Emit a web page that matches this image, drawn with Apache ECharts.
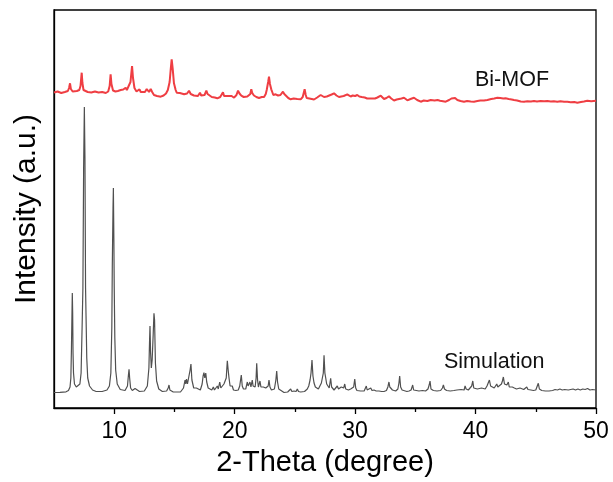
<!DOCTYPE html>
<html>
<head>
<meta charset="utf-8">
<script src="https://cdn.jsdelivr.net/npm/echarts@6/dist/echarts.min.js"></script>
<style>
  html, body { margin: 0; padding: 0; background: #fff; }
  #chart { width: 613px; height: 482px; }
</style>
</head>
<body>
<div id="chart"></div>
<script>
// XRD patterns: 2-theta (degree) and stacked intensity (a.u.)
const simulationPattern = [
  [5.0,15.5],[5.5,15.6],[6.0,16.2],[6.2,17.5],[6.33,21],[6.40,30],[6.45,60],[6.50,100],[6.52,115],[6.55,95],
  [6.58,55],[6.62,35],[6.70,24],[6.85,21],[7.0,20],[7.15,24],[7.25,35],[7.33,79],[7.40,120],[7.46,240],
  [7.52,301],[7.57,250],[7.62,120],[7.66,92],[7.72,50],[7.80,30],[7.95,22],[8.2,18],[8.5,16.5],[9.0,16.5],
  [9.4,18],[9.6,22],[9.72,35],[9.80,80],[9.84,141],[9.90,200],[9.93,220],[9.97,170],[10.0,121],[10.05,70],
  [10.12,38],[10.25,24],[10.5,18.5],[10.9,17.5],[11.1,22],[11.18,33],[11.23,38.7],[11.28,30],[11.36,20],[11.5,17.5],
  [11.65,18],[11.73,19.5],[11.8,17.5],[12.1,16.5],[12.5,17],[12.75,22],[12.88,40],[12.94,70],[12.97,82],[13.02,55],
  [13.08,40],[13.15,48],[13.24,75],[13.30,94.7],[13.35,88],[13.42,45],[13.52,27],[13.7,19],[14.0,16.5],[14.35,17],
  [14.48,20],[14.55,23],[14.62,18],[14.9,16],[15.5,16],[15.75,20],[15.88,28],[15.94,24],[16.0,29],[16.08,24],
  [16.2,26],[16.30,38],[16.37,44],[16.45,28],[16.6,20],[16.75,18.5],[16.82,20],[16.9,18],[17.15,18],[17.3,24],
  [17.38,32],[17.45,35.3],[17.52,30],[17.6,35],[17.68,26],[17.8,20],[17.87,22],[17.95,18.5],[18.1,18],[18.23,21],
  [18.32,18],[18.45,18],[18.56,22],[18.64,19],[18.76,26],[18.85,20],[18.95,19],[19.11,24],[19.2,22],[19.3,30],
  [19.39,47.3],[19.46,38],[19.53,30],[19.62,22],[19.72,20],[19.8,22],[19.9,18],[20.1,17.5],[20.3,18],[20.42,22],
  [20.55,33],[20.63,22],[20.73,19],[20.83,21],[20.92,19],[21.05,26],[21.12,22],[21.19,24],[21.27,26],[21.35,21],
  [21.46,28],[21.53,22],[21.6,22],[21.7,21],[21.78,30],[21.83,44.7],[21.9,28],[21.97,21],[22.1,27],[22.18,21],
  [22.28,19],[22.38,21],[22.48,19],[22.58,20],[22.68,18.5],[22.78,22],[22.85,28],[22.93,21],[23.05,18],[23.13,17],
  [23.3,19],[23.42,28],[23.49,37],[23.56,26],[23.66,19],[23.82,17],[24.1,15.5],[24.4,16],[24.55,17],[24.65,19],
  [24.75,16.5],[24.93,17],[25.1,16.5],[25.2,19],[25.3,16.5],[25.48,16],[25.8,16.5],[25.95,18],[26.03,19],[26.15,22],
  [26.26,28],[26.34,35],[26.42,48],[26.5,32],[26.59,25],[26.7,21],[26.81,20],[26.95,19],[27.1,21],[27.2,25],
  [27.3,24],[27.36,35],[27.42,52.7],[27.49,35],[27.56,30],[27.64,24],[27.75,22],[27.85,20],[27.97,29.7],[28.05,21],
  [28.15,19],[28.25,18],[28.38,20],[28.52,22],[28.62,19],[28.75,19],[28.85,21],[28.95,19],[29.05,20],[29.14,24],
  [29.22,19],[29.35,20],[29.45,18],[29.63,19],[29.75,18],[29.88,21],[29.97,29],[30.05,20],[30.15,17.5],[30.24,17],
  [30.45,17],[30.6,18],[30.75,17],[30.93,22],[31.0,18],[31.15,18],[31.3,20],[31.4,17.5],[31.57,18],[31.75,17],
  [31.98,17],[32.2,16.5],[32.4,16.5],[32.6,17.5],[32.72,21],[32.81,26],[32.88,21],[33.0,22],[33.1,18],[33.25,17],
  [33.37,17],[33.55,19],[33.64,25],[33.7,32],[33.78,21],[33.9,18],[34.06,17],[34.3,16.5],[34.48,17],[34.65,18],
  [34.78,23],[34.86,18],[35.0,17],[35.3,17],[35.6,17.5],[35.85,17],[36.05,19],[36.15,23],[36.22,27],[36.3,19],
  [36.5,17.5],[36.8,17],[37.1,17.5],[37.25,20],[37.33,23],[37.42,19],[37.6,17.5],[37.9,17],[38.2,17.5],[38.45,18],
  [38.6,17.5],[38.8,18.5],[38.95,19.5],[39.05,18],[39.13,22],[39.22,19],[39.4,18],[39.55,19],[39.68,22],[39.77,27],
  [39.85,20],[39.98,18],[40.15,19],[40.3,18],[40.5,20],[40.62,19],[40.8,19],[40.95,22],[41.05,24],[41.15,28],
  [41.25,22],[41.4,21],[41.55,20],[41.68,22],[41.76,24],[41.85,21],[42.0,22],[42.15,24],[42.23,27],[42.31,31],
  [42.4,24],[42.5,22],[42.6,23],[42.72,26],[42.8,21],[42.95,20],[43.05,21],[43.14,23],[43.22,20],[43.4,19],
  [43.55,19],[43.69,20],[43.8,18.5],[44.0,18.5],[44.15,19],[44.25,21],[44.35,18.5],[44.6,18],[44.8,17.5],[45.0,18],
  [45.12,20],[45.21,24.7],[45.3,19],[45.5,17.5],[45.8,17],[46.1,17],[46.4,17.5],[46.6,18.5],[46.8,18],[47.0,19],
  [47.2,18],[47.4,18.5],[47.55,19.5],[47.7,18],[47.9,18.5],[48.1,19],[48.3,18],[48.5,19],[48.7,18],[48.9,19],
  [49.1,18.5],[49.3,19.5],[49.5,18],[49.7,18.5],[50.0,18]
];

const biMofPattern = [
  [5.0,315.5],[5.3,316.5],[5.6,315],[5.9,316],[6.15,317],[6.25,320],[6.33,324.7],[6.4,319],[6.55,316.5],[6.7,316],
  [6.9,317],[7.1,318],[7.2,322],[7.26,330],[7.3,335.3],[7.36,325],[7.45,318],[7.6,317],[7.8,316],[8.1,315.5],
  [8.4,316.5],[8.7,315.5],[9.0,316],[9.3,315],[9.5,316.5],[9.62,322],[9.7,333.7],[9.77,324],[9.9,317.5],[10.1,316.5],
  [10.3,317],[10.54,318],[10.75,318.5],[10.88,320],[10.95,320.3],[11.05,318],[11.2,320],[11.35,326],[11.48,342],[11.56,330],
  [11.68,320],[11.85,316.5],[11.95,317],[12.1,318.7],[12.2,316],[12.35,315.3],[12.55,316],[12.7,319],[12.8,317],[12.89,316],
  [13.03,319],[13.15,316],[13.3,313],[13.55,312],[13.86,311.3],[14.1,312.5],[14.3,314.5],[14.45,318],[14.6,326],[14.7,340],
  [14.77,348.7],[14.85,340],[14.96,324.7],[15.1,318],[15.19,315.3],[15.45,315],[15.8,313.7],[16.05,314.5],[16.21,317.3],[16.35,314],
  [16.49,313],[16.62,312.5],[16.76,311.3],[16.95,312],[17.12,315.3],[17.22,312.5],[17.31,311.7],[17.5,313],[17.65,317.3],[17.75,314],
  [17.87,312],[18.1,311],[18.35,310.5],[18.56,309.7],[18.8,311],[18.95,313],[19.03,315.7],[19.12,312],[19.25,310.7],[19.45,312],
  [19.61,314],[19.75,312],[19.95,310.3],[20.15,313],[20.28,317.3],[20.4,314.5],[20.55,312.3],[20.75,311],[20.91,310],[21.05,311.5],
  [21.19,311],[21.3,314],[21.38,318.7],[21.46,315],[21.6,312.5],[21.8,311],[22.02,310],[22.25,311],[22.44,311],[22.58,314],
  [22.66,318],[22.78,326],[22.85,331.3],[22.93,324],[23.04,318.7],[23.12,316],[23.21,313],[23.3,315],[23.4,313.7],[23.6,312.5],
  [23.8,313],[24.01,316.3],[24.12,314],[24.24,312],[24.45,310],[24.65,308.7],[24.9,309.5],[25.2,309],[25.48,308.7],[25.65,311],
  [25.81,318.7],[25.9,313],[25.98,310],[26.2,309.5],[26.4,309],[26.59,308.5],[26.85,310.5],[27.0,311],[27.14,313],[27.28,311.5],
  [27.42,311],[27.65,311.5],[27.85,312.5],[28.05,313.5],[28.25,314.7],[28.45,312.5],[28.66,311],[28.85,311.5],[29.05,312],[29.2,313],
  [29.35,313.7],[29.5,312],[29.63,311.5],[29.8,312.5],[30.0,312],[30.18,313],[30.35,311.5],[30.55,311],[30.8,310.5],[31.0,309.5],
  [31.15,308],[31.3,309.5],[31.45,310],[31.65,309.5],[31.85,310.5],[32.0,311],[32.13,312.3],[32.25,310.5],[32.4,309],[32.6,310],
  [32.81,311.7],[33.0,309.5],[33.23,307.5],[33.45,308.5],[33.65,309],[33.85,309.5],[34.06,310.3],[34.2,309],[34.34,307.7],[34.6,309],
  [34.89,310.3],[35.15,308],[35.45,306.3],[35.7,307.5],[36.0,307],[36.28,308],[36.6,307.5],[36.85,308],[37.05,307.3],[37.3,306.8],
  [37.52,306.3],[37.8,308],[38.0,309.5],[38.15,311.3],[38.3,310],[38.49,308],[38.75,307],[39.04,306.3],[39.3,307],[39.6,306.5],
  [39.87,306.3],[40.15,307],[40.4,307.5],[40.7,307.5],[40.98,308],[41.3,309],[41.55,309.5],[41.81,310.3],[42.05,310],[42.3,309.5],
  [42.5,309.7],[42.75,309],[43.0,308.5],[43.19,308],[43.45,307.5],[43.75,306.5],[44.02,306.3],[44.3,306.8],[44.6,306.5],[44.85,307],
  [45.1,306.5],[45.4,307],[45.7,306.8],[45.96,307],[46.25,306.5],[46.5,306.8],[46.79,306.3],[47.05,306.8],[47.35,306.3],[47.62,306.3],
  [47.9,305.8],[48.2,306],[48.45,305.3],[48.75,306],[49.0,306.5],[49.28,307.3],[49.6,306.8],[50.0,307.3]
];

const xMajorTicks = [10, 20, 30, 40, 50];
const xMinorTicks = [15, 25, 35, 45];
const xRange = [5, 50];
const yRange = [0, 398];
const seriesNames = ['Simulation', 'Bi-MOF'];

const FONT = '"Liberation Sans", Arial, sans-serif';

const chart = echarts.init(document.getElementById('chart'), null, { renderer: 'canvas' });

chart.setOption({
  backgroundColor: '#ffffff',
  animation: false,
  grid: {
    left: 54, right: 17, top: 10, bottom: 74,
    show: true, borderColor: '#000', borderWidth: 1.3, backgroundColor: 'transparent'
  },
  xAxis: [
    {
      type: 'value', min: xRange[0], max: xRange[1], interval: 5,
      name: '2-Theta (degree)', nameLocation: 'middle', nameGap: 40,
      nameTextStyle: { fontFamily: FONT, fontSize: 29, color: '#000' },
      axisLine: { show: true, lineStyle: { color: '#000', width: 1.3 } },
      axisTick: { show: true, inside: false, length: 6, customValues: xMajorTicks, lineStyle: { color: '#000', width: 1.3 } },
      axisLabel: { show: true, customValues: xMajorTicks, margin: 12, fontFamily: FONT, fontSize: 23, color: '#000' },
      splitLine: { show: false }
    },
    {
      type: 'value', min: xRange[0], max: xRange[1], interval: 5, position: 'bottom',
      axisLine: { show: false },
      axisTick: { show: true, inside: false, length: 4, customValues: xMinorTicks, lineStyle: { color: '#000', width: 1.3 } },
      axisLabel: { show: false },
      splitLine: { show: false }
    }
  ],
  yAxis: {
    type: 'value', min: yRange[0], max: yRange[1],
    name: 'Intensity (a.u.)', nameLocation: 'middle', nameGap: 12, nameRotate: 90,
    nameTextStyle: { fontFamily: FONT, fontSize: 30, color: '#000' },
    axisLine: { show: true, lineStyle: { color: '#000', width: 1.3 } },
    axisTick: { show: false },
    axisLabel: { show: false },
    splitLine: { show: false }
  },
  series: [
    {
      name: seriesNames[0], type: 'line', xAxisIndex: 0, data: simulationPattern,
      showSymbol: false, smooth: false,
      lineStyle: { color: '#505050', width: 1.2 }
    },
    {
      name: seriesNames[1], type: 'line', xAxisIndex: 0, data: biMofPattern,
      showSymbol: false, smooth: false,
      lineStyle: { color: '#ef3e43', width: 2 }
    }
  ],
  graphic: [
    {
      type: 'text', left: 475, top: 80.5 - 11,
      style: { text: seriesNames[1], font: '21.5px ' + FONT, fill: '#111' }
    },
    {
      type: 'text', left: 444, top: 361.7 - 11,
      style: { text: seriesNames[0], font: '21.5px ' + FONT, fill: '#111' }
    }
  ]
});
</script>
</body>
</html>
